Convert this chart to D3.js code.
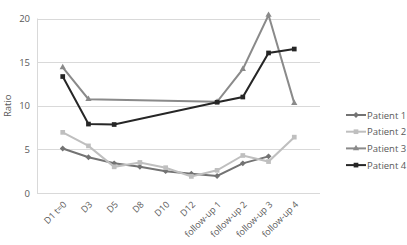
<!DOCTYPE html>
<html>
<head>
<meta charset="utf-8">
<script src="https://cdn.jsdelivr.net/npm/d3@7"></script>
<style>
	body { margin: 0; background: #fff; }
	text { font-family: "Open Sans", "Liberation Sans", sans-serif; fill: #595959; }
</style>
</head>
<body>
<div id="chart"></div>
<script>
const categories = ['D1 t=0', 'D3', 'D5', 'D8', 'D10', 'D12', 'follow-up 1', 'follow-up 2', 'follow-up 3', 'follow-up 4'];
const patient1 = [5.1, 4.1, 3.4, 3.0, 2.5, 2.2, 1.95, 3.4, 4.2, null];
const patient2 = [6.95, 5.4, 3.0, 3.5, 2.9, 1.9, 2.6, 4.3, 3.6, 6.4];
const patient3 = [14.4, 10.75, null, null, null, null, 10.45, 14.2, 20.4, 10.3];
const patient4 = [13.35, 7.9, 7.85, null, null, null, 10.4, 11.0, 16.05, 16.5];
const seriesNames = ['Patient 1', 'Patient 2', 'Patient 3', 'Patient 4'];
const yTicks = [0, 5, 10, 15, 20];

const width = 407, height = 245;
const margins = { top: 18.5, left: 37, right: 87, bottom: 52 };
const colors = ['#737373', '#bfbfbf', '#8a8a8a', '#262626'];
const shapes = [d3.symbolDiamond2, d3.symbolSquare2, d3.symbolTriangle2, d3.symbolSquare2];

let svg = d3.select('#chart').append('svg')
	.attr('width', width)
	.attr('height', height);

let xScale = d3.scalePoint()
	.domain(categories)
	.range([margins.left, width - margins.right])
	.padding(1);
let yScale = d3.scaleLinear()
	.domain([0, 20])
	.range([height - margins.bottom, margins.top]);

// gridlines
svg.append('g').selectAll('line')
	.data(yTicks)
	.enter().append('line')
	.attr('x1', margins.left)
	.attr('x2', width - margins.right)
	.attr('y1', d => Math.round(yScale(d)) + 0.5)
	.attr('y2', d => Math.round(yScale(d)) + 0.5)
	.attr('stroke', '#d9d9d9')
	.attr('stroke-width', 1);
svg.append('line')
	.attr('x1', margins.left + 0.5).attr('x2', margins.left + 0.5)
	.attr('y1', yScale(20)).attr('y2', yScale(0))
	.attr('stroke', '#d9d9d9');

// y axis
let yAxis = d3.axisLeft(yScale).tickValues(yTicks).tickSize(0).tickPadding(7);
let gY = svg.append('g')
	.attr('transform', `translate(${margins.left},0)`)
	.call(yAxis);
gY.select('.domain').remove();
gY.selectAll('text').attr('font-size', '9.5px').style('fill', '#595959');

svg.append('text')
	.attr('transform', `translate(11,${(yScale(0) + yScale(20)) / 2}) rotate(-90)`)
	.attr('text-anchor', 'middle')
	.attr('font-size', '9.5px')
	.text('Ratio');

// x labels
let xAxis = d3.axisBottom(xScale).tickSize(0).tickPadding(0);
let gX = svg.append('g')
	.attr('transform', `translate(0,${yScale(0)})`)
	.call(xAxis);
gX.select('.domain').remove();
gX.selectAll('text')
	.attr('font-size', '9px')
	.style('fill', '#595959')
	.style('text-anchor', 'end')
	.attr('dy', 0)
	.attr('y', 0)
	.attr('transform', 'translate(4,12) rotate(-45)');

// lines
let allSeries = [patient1, patient2, patient3, patient4];
let line = d3.line()
	.x(d => xScale(d.cat))
	.y(d => yScale(d.val));
allSeries.forEach((s, i) => {
	let pts = s.map((v, j) => ({ cat: categories[j], val: v })).filter(d => d.val != null);
	svg.append('path')
		.datum(pts)
		.attr('d', line)
		.attr('fill', 'none')
		.attr('stroke', colors[i])
		.attr('stroke-width', 2);
	svg.append('g').selectAll('path')
		.data(pts)
		.enter().append('path')
		.attr('transform', d => `translate(${xScale(d.cat)},${yScale(d.val)})`)
		.attr('d', d3.symbol().type(shapes[i]).size(i == 0 ? 22 : 28))
		.attr('fill', colors[i]);
});

// legend
let legend = svg.append('g').attr('transform', 'translate(346,115)');
seriesNames.forEach((name, i) => {
	let g = legend.append('g').attr('transform', `translate(0,${i * 16.7})`);
	g.append('line')
		.attr('x1', 0).attr('x2', 20)
		.attr('stroke', colors[i])
		.attr('stroke-width', 2);
	g.append('path')
		.attr('transform', 'translate(10,0)')
		.attr('d', d3.symbol().type(shapes[i]).size(i == 0 ? 22 : 28))
		.attr('fill', colors[i]);
	g.append('text')
		.attr('x', 21)
		.attr('y', 3.5)
		.attr('font-size', '9.5px')
		.text(name);
});
</script>
</body>
</html>
